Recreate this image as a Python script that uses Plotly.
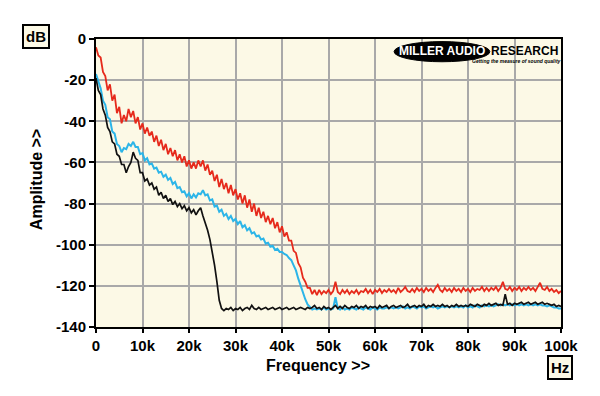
import numpy as np
import plotly.graph_objects as go

# frequency grid in kHz (0 to 100k, 0.5k steps)
freq_khz = np.arange(0, 100.01, 0.5)

red_db = [
    -4, -8, -9, -16, -18, -25, -22, -30, -27, -36,
    -33, -41, -37, -40, -34, -38, -35, -41, -38, -44,
    -41, -46, -43, -47, -45, -50, -47, -52, -49, -54,
    -51, -56, -53, -57, -54, -59, -56, -60, -57, -62,
    -59, -63, -60, -63, -59, -62, -59, -64, -61, -66,
    -64, -69, -66, -72, -68, -73, -70, -75, -71, -76,
    -73, -78, -75, -80, -76, -82, -78, -84, -80, -86,
    -82, -87, -84, -89, -86, -90, -87, -92, -89, -94,
    -91, -96, -94, -98, -98, -103, -104, -109, -111, -116,
    -118, -121, -121, -124, -122, -124.5, -122, -124, -122.5, -123.5,
    -122, -124, -122.5, -118, -123, -124, -122, -123.5, -122, -124,
    -122.5, -123.5, -122, -124, -122.5, -123, -121.5, -123.5, -122, -124,
    -122, -123, -121.5, -123.5, -122, -123, -121.5, -123, -122, -123.5,
    -121, -123, -122, -120.5, -122.5, -123, -121.5, -123, -121, -122.5,
    -121.5, -123, -121, -122.5, -121.5, -123, -121, -119.5, -122, -123,
    -121, -122.5, -121.5, -123, -121, -122.5, -121.5, -123, -121, -122.5,
    -121.5, -123, -121, -122.5, -121.5, -122, -120.5, -122.5, -121, -122.5,
    -121, -122, -120.5, -122.5, -121, -118, -121.5, -122, -120.5, -122.5,
    -121, -122, -120.5, -122.5, -121, -122, -120.5, -122, -121, -122.5,
    -120.5, -118.5, -121.5, -122, -120.5, -122.5, -121.5, -123, -122, -123.5,
    -122.5,
]

cyan_db = [
    -17, -21, -24, -30, -32, -38, -39, -45, -46, -51,
    -52, -55, -53, -53.5, -51, -52, -50, -52.5, -52.5, -56,
    -55.5, -59, -58, -61, -60.5, -63, -62.5, -65, -64.5, -67,
    -66, -68.5, -67.5, -70.5, -69.5, -72.5, -72, -74.5, -74, -76.5,
    -75, -77.5, -75.5, -77, -75, -75.5, -73.5, -76, -75.5, -78.5,
    -78, -81.5, -81, -84, -83, -86, -85, -87.5, -86, -88.5,
    -87.5, -90, -88.5, -91.5, -90.5, -93, -92, -94.5, -94, -96,
    -95.5, -97.5, -97, -99.5, -99, -101, -100.5, -102.5, -102, -103.5,
    -103.5, -104.5, -105, -106.5, -107.5, -110, -112.5, -116.5, -120, -124,
    -126.5, -129, -130.5, -131.5, -131, -131.5, -131, -131.5, -130.5, -131.5,
    -131, -131.5, -131, -125.5, -131, -131.5, -130.5, -131.5, -131, -131.5,
    -130.5, -131, -131.5, -130.5, -131, -131.5, -130.5, -131, -131.5, -130.5,
    -131, -131.5, -130.5, -131, -131, -130.5, -131, -130.5, -131, -130.5,
    -131, -130.5, -130, -131, -130.5, -131, -130, -130.5, -131, -130,
    -130.5, -130, -131, -130.5, -130, -130.5, -130, -131, -130.5, -130,
    -130.5, -130, -130.5, -130, -130.5, -130, -130.5, -130, -130.5, -129.5,
    -130.5, -130, -130.5, -129.5, -130, -130.5, -129.5, -130, -129.5, -130,
    -129.5, -130, -129.5, -129, -129.5, -129, -129.5, -129, -129.5, -129,
    -129.5, -129, -129.5, -129, -129.5, -129, -129.5, -129, -129.5, -129,
    -129.5, -129, -129.5, -129.5, -130, -129.5, -130, -130.5, -130.5, -131,
    -131,
]

black_db = [
    -19, -25, -27, -34, -37, -43, -45, -50, -51, -56,
    -57, -61, -61, -65, -62, -60, -55, -58, -59, -65,
    -65, -69, -68, -71, -70, -73, -72, -76, -74.5, -77.5,
    -76, -79, -77.5, -80.5, -79, -81.5, -80, -82.5, -81, -83.5,
    -82, -84.5, -83, -85.5, -83.5, -82, -86, -89, -93, -97.5,
    -103, -110, -118, -127, -131, -132, -131, -131.5, -130.5, -132,
    -131, -131.5, -130.5, -132, -131, -130.5, -131.5, -129.5, -131, -131.5,
    -130.5, -131.5, -131, -130.5, -131.5, -131, -130.5, -131.5, -131, -130.5,
    -131.5, -131, -130.5, -131.5, -131, -130.5, -131.5, -131, -130.5, -131,
    -131.5, -130.5, -131, -130.5, -129.5, -131, -130.5, -131.5, -130, -131,
    -130.5, -131.5, -130.5, -129.5, -131, -130, -131, -129.5, -130.5, -131,
    -130, -130.5, -129.5, -131, -130, -130.5, -129.5, -131, -130, -130.5,
    -130, -131, -129.5, -130.5, -130, -129.5, -131, -130, -129.5, -130.5,
    -130, -129.5, -130.5, -130, -129, -130.5, -130, -129.5, -130.5, -129.5,
    -130, -129, -130.5, -129.5, -130, -129, -130, -129.5, -130, -129,
    -130, -129.5, -130.5, -129.5, -130, -129, -130, -129.5, -130, -129.5,
    -130, -129, -129.5, -130, -129, -129.5, -130, -129, -129.5, -128.5,
    -129.5, -129, -128.5, -129.5, -129, -129.5, -124, -129, -128.5, -129.5,
    -128.5, -129, -128.5, -128, -129, -128.5, -128, -129, -128.5, -128,
    -129, -128.5, -128, -129, -128.5, -129, -129.5, -129, -130, -129.5,
    -130,
]

x_tick_vals = [0, 10, 20, 30, 40, 50, 60, 70, 80, 90, 100]
x_tick_text = ["0", "10k", "20k", "30k", "40k", "50k", "60k", "70k", "80k", "90k", "100k"]
y_tick_vals = [0, -20, -40, -60, -80, -100, -120, -140]
y_tick_text = ["0", "-20", "-40", "-60", "-80", "-100", "-120", "-140"]

FONT = "Liberation Sans, Arial, sans-serif"
CREAM = "#fcf9e6"

fig = go.Figure()
fig.add_trace(go.Scatter(x=freq_khz, y=red_db, mode="lines",
                         line=dict(color="#e62a1c", width=1.8), showlegend=False))
fig.add_trace(go.Scatter(x=freq_khz, y=cyan_db, mode="lines",
                         line=dict(color="#2cb5e8", width=2.0), showlegend=False))
fig.add_trace(go.Scatter(x=freq_khz, y=black_db, mode="lines",
                         line=dict(color="#111111", width=1.7), showlegend=False))

tickfont = dict(family=FONT, size=15, color="black")
fig.update_layout(
    width=600, height=396,
    margin=dict(l=96, r=39, t=39, b=69),
    paper_bgcolor="white",
    plot_bgcolor=CREAM,
    font=dict(family=FONT, size=15, color="black"),
    xaxis=dict(range=[0, 100], tickvals=x_tick_vals,
               ticktext=["<b>%s</b>" % t for t in x_tick_text],
               showgrid=True, gridcolor="#a9a9a9", gridwidth=1.5,
               showline=True, linecolor="black", linewidth=2, mirror=True,
               ticks="outside", ticklen=4, tickwidth=1.5, tickcolor="black",
               tickfont=tickfont, automargin=False,
               zeroline=False, fixedrange=True),
    yaxis=dict(range=[-140, 0], tickvals=y_tick_vals,
               ticktext=["<b>%s</b>" % t for t in y_tick_text],
               showgrid=True, gridcolor="#a9a9a9", gridwidth=1.5,
               showline=True, linecolor="black", linewidth=2, mirror=True,
               ticks="outside", ticklen=5, tickwidth=1.5, tickcolor="black",
               tickfont=tickfont, automargin=False,
               zeroline=False, fixedrange=True),
)

def note(text, x, y, size, color="black", **kw):
    fig.add_annotation(text=text, xref="paper", yref="paper", x=x, y=y,
                       xanchor="center", yanchor="middle", showarrow=False,
                       font=dict(family=FONT, size=size, color=color), **kw)

note("<b>dB</b>", -0.130, 1.010, 15, bgcolor=CREAM, bordercolor="black", borderwidth=2, borderpad=2)
note("<b>Hz</b>", 0.998, -0.141, 15, bgcolor=CREAM, bordercolor="black", borderwidth=2, borderpad=2)
note("<b>Amplitude >></b>", -0.129, 0.51, 16, textangle=-90)
note("<b>Frequency >></b>", 0.477, -0.132, 16)

# logo
fig.add_shape(type="circle", xref="paper", yref="paper",
              x0=0.641, x1=0.847, y0=0.921, y1=0.991,
              fillcolor="black", line=dict(color="black", width=1), layer="above")
note("<b>MILLER AUDIO</b>", 0.744, 0.957, 12, color="white")
note("<b>RESEARCH</b>", 0.922, 0.957, 12)
note("<b><i>Getting the measure of sound quality</i></b>", 0.904, 0.925, 5)

fig.write_html("out.html", config={"displayModeBar": False},
               post_script="document.body.style.margin='0';document.body.style.overflow='hidden';")
